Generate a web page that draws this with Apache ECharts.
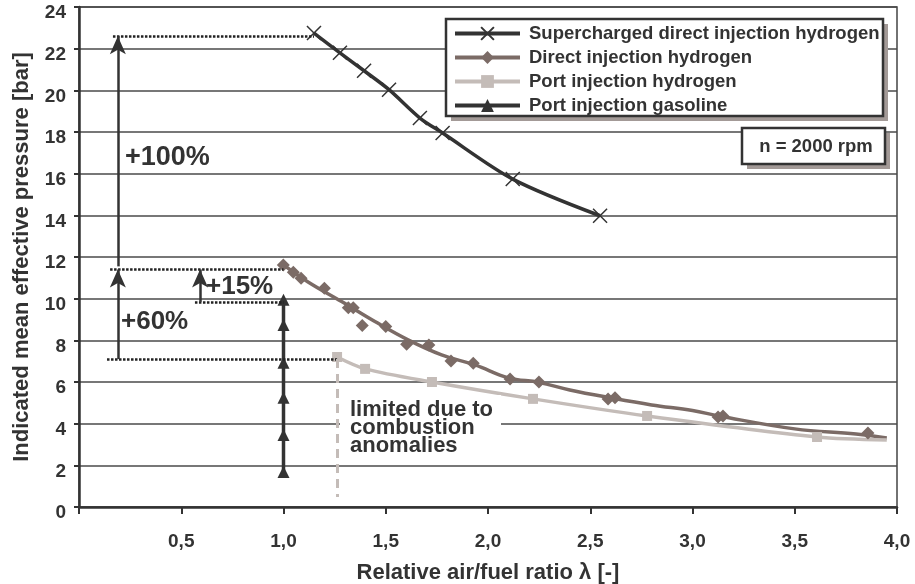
<!DOCTYPE html>
<html lang="en">

<head>
    <meta charset="UTF-8">
    <title>Indicated mean effective pressure vs. lambda</title>
    <script src="https://cdn.jsdelivr.net/npm/echarts@6/dist/echarts.min.js"></script>
    <style>
        html, body { margin: 0; padding: 0; background: #fff; }
        #chart { width: 915px; height: 584px; }
    </style>
</head>

<body>
    <div id="chart"></div>
    <script>
        // data
        const superX = [1.149, 1.276, 1.394, 1.516, 1.667, 1.778, 2.121, 2.548];
        const superY = [22.75, 21.8, 20.94, 20.03, 18.67, 17.95, 15.74, 13.98];

        // measured points (markers)
        const directX = [0.999, 1.048, 1.086, 1.2, 1.317, 1.341, 1.385, 1.5, 1.602, 1.711, 1.819, 1.928, 2.108, 2.249, 2.587, 2.621, 3.125, 3.149, 3.858];
        const directY = [11.62, 11.27, 10.98, 10.5, 9.57, 9.57, 8.71, 8.66, 7.81, 7.78, 7.01, 6.9, 6.15, 6.0, 5.19, 5.24, 4.32, 4.37, 3.55];
        // the smoothed curve drawn through them, as seen in the picture
        const directCurveX = [1.0, 1.12, 1.284, 1.447, 1.609, 1.773, 1.936, 2.1, 2.25, 2.4, 2.6, 2.8, 3.0, 3.13, 3.5, 3.8, 3.95];
        const directCurveY = [11.62, 10.8, 9.86, 8.9, 8.02, 7.3, 6.82, 6.2, 5.98, 5.62, 5.24, 4.9, 4.63, 4.37, 3.75, 3.5, 3.31];

        const portX = [1.262, 1.399, 1.726, 2.22, 2.778, 3.609, 3.95];
        const portY = [7.2, 6.63, 6.0, 5.19, 4.37, 3.36, 3.22];

        const gasX = [1.0, 1.0, 1.0, 1.0, 1.0, 1.0];
        const gasY = [9.95, 8.74, 6.92, 5.24, 3.46, 1.68];

        const seriesNames = ['Supercharged direct injection hydrogen', 'Direct injection hydrogen', 'Port injection hydrogen', 'Port injection gasoline'];

        // reference lines and arrows (data coordinates)
        const dottedLines = [
            [[0.166, 22.6], [1.149, 22.6]],
            [[0.152, 11.4], [1.0, 11.4]],
            [[0.567, 9.85], [1.0, 9.85]],
            [[0.137, 7.1], [1.262, 7.1]]
        ];
        const arrows = [
            [[0.19, 11.55], [0.19, 22.6]],
            [[0.19, 7.1], [0.19, 11.4]],
            [[0.592, 9.85], [0.592, 11.4]]
        ];
        const limitLine = [[1.262, 7.1], [1.262, 0.48]];

        const font = "'Liberation Sans', Arial, sans-serif";
        const dark = '#333';
        const brown = '#7b6b66';
        const light = '#c4bcb8';

        // line ends past the last marker have no symbol
        function pairs(xs, ys, noMarkerLast) {
            return xs.map((x, i) => {
                if (noMarkerLast && i === xs.length - 1) {
                    return { value: [x, ys[i]], symbol: 'none' };
                }
                return [x, ys[i]];
            });
        }

        let markData = [];
        dottedLines.forEach(l => {
            markData.push([
                { coord: l[0], symbol: 'none', lineStyle: { color: '#222', width: 2.5, type: [2.5, 1.5] } },
                { coord: l[1], symbol: 'none' }
            ]);
        });
        arrows.forEach(l => {
            markData.push([
                { coord: l[0], symbol: 'none', lineStyle: { color: dark, width: 2.5, type: 'solid' } },
                { coord: l[1], symbol: 'arrow', symbolSize: [12, 18] }
            ]);
        });
        markData.push([
            { coord: limitLine[0], symbol: 'none', lineStyle: { color: light, width: 3, type: [9, 6] } },
            { coord: limitLine[1], symbol: 'none' }
        ]);

        let myChart = echarts.init(document.getElementById('chart'));

        let option = {
            animation: false,
            textStyle: { fontFamily: font },
            grid: {
                left: 79, right: 18, top: 7, bottom: 77,
                outerBoundsMode: 'none',
                show: true, borderColor: '#444', borderWidth: 1.5
            },
            legend: {
                data: seriesNames,
                orient: 'vertical',
                left: 446, top: 19,
                padding: [5, 0, 0, 7],
                itemWidth: 65, itemHeight: 16, itemGap: 5,
                z: 20,
                lineStyle: { width: 4 },
                textStyle: { fontFamily: font, fontSize: 18.5, fontWeight: 'bold', color: dark, lineHeight: 16, padding: [0, 0, 0, 4] }
            },
            xAxis: {
                type: 'value',
                min: 0, max: 4, interval: 0.5,
                name: 'Relative air/fuel ratio λ [-]',
                nameLocation: 'middle',
                nameGap: 55,
                nameTextStyle: { fontFamily: font, fontSize: 22, fontWeight: 'bold', color: dark },
                axisLine: { lineStyle: { color: dark, width: 2.5 } },
                axisTick: { show: true, length: 7, lineStyle: { color: dark, width: 2 } },
                axisLabel: {
                    margin: 25, fontSize: 19, fontWeight: 'bold', color: dark, fontFamily: font,
                    formatter: v => v === 0 ? '' : v.toFixed(1).replace('.', ',')
                },
                splitLine: { show: false }
            },
            yAxis: {
                type: 'value',
                min: 0, max: 24, interval: 2,
                name: 'Indicated mean effective pressure [bar]',
                nameLocation: 'middle',
                nameGap: 46,
                nameTextStyle: { fontFamily: font, fontSize: 22, fontWeight: 'bold', color: dark },
                axisLine: { show: true, lineStyle: { color: dark, width: 2.5 } },
                axisTick: { show: true, length: 5, lineStyle: { color: dark, width: 2 } },
                // labels sit a little below their gridlines in the original
                axisLabel: { margin: 13, fontSize: 19, fontWeight: 'bold', color: dark, fontFamily: font, verticalAlign: 'top', lineHeight: 12 },
                splitLine: { lineStyle: { color: '#4a4a4a', width: 1.5 } }
            },
            graphic: [
                // legend frame with shadow
                { type: 'rect', z: 10, shape: { x: 451, y: 24, width: 437, height: 97 }, style: { fill: '#a39a97' } },
                { type: 'rect', z: 11, shape: { x: 446, y: 19, width: 437, height: 97 }, style: { fill: '#fff', stroke: dark, lineWidth: 2.5 } },
                // rpm box
                { type: 'rect', z: 10, shape: { x: 747, y: 133, width: 143, height: 36 }, style: { fill: '#a39a97' } },
                { type: 'rect', z: 11, shape: { x: 742, y: 128, width: 143, height: 36 }, style: { fill: '#fff', stroke: dark, lineWidth: 2.5 } },
                {
                    type: 'text', z: 12, x: 816, y: 147,
                    style: { text: 'n = 2000 rpm', fill: dark, fontSize: 18.5, fontWeight: 'bold', fontFamily: font, align: 'center', verticalAlign: 'middle' }
                },
                {
                    type: 'text', z: 12, x: 125, y: 158,
                    style: { text: '+100%', fill: dark, fontSize: 27, fontWeight: 'bold', fontFamily: font, verticalAlign: 'middle' }
                },
                {
                    type: 'text', z: 12, x: 121, y: 322,
                    style: { text: '+60%', fill: dark, fontSize: 26, fontWeight: 'bold', fontFamily: font, verticalAlign: 'middle' }
                },
                {
                    type: 'text', z: 12, x: 206, y: 287,
                    style: { text: '+15%', fill: dark, fontSize: 26, fontWeight: 'bold', fontFamily: font, verticalAlign: 'middle' }
                },
                {
                    type: 'text', z: 12, x: 340, y: 395,
                    style: {
                        text: 'limited due to\ncombustion\nanomalies', fill: dark, fontSize: 22, fontWeight: 'bold', fontFamily: font,
                        lineHeight: 18, verticalAlign: 'top', backgroundColor: '#fff', padding: [6, 8, 6, 10]
                    }
                }
            ],
            series: [
                {
                    name: seriesNames[0],
                    type: 'line',
                    smooth: 0.3,
                    data: pairs(superX, superY, false),
                    symbol: 'path://M0,0L10,10M10,0L0,10',
                    symbolSize: 14,
                    lineStyle: { color: dark, width: 3.5 },
                    itemStyle: { color: dark, borderColor: dark, borderWidth: 1.5 },
                    z: 3
                },
                {
                    // curve carries the legend entry, markers come from the scatter below
                    name: seriesNames[1],
                    type: 'line',
                    smooth: 0.4,
                    data: pairs(directCurveX, directCurveY, false),
                    symbol: 'diamond',
                    symbolSize: 13,
                    showSymbol: false,
                    lineStyle: { color: brown, width: 3.5 },
                    itemStyle: { color: brown },
                    z: 3
                },
                {
                    name: 'Direct injection hydrogen points',
                    type: 'scatter',
                    data: pairs(directX, directY, false),
                    symbol: 'diamond',
                    symbolSize: 13,
                    itemStyle: { color: brown, opacity: 1 },
                    z: 4
                },
                {
                    name: seriesNames[2],
                    type: 'line',
                    smooth: 0.3,
                    data: pairs(portX, portY, true),
                    symbol: 'rect',
                    symbolSize: 10,
                    lineStyle: { color: light, width: 3.5 },
                    itemStyle: { color: light },
                    z: 3
                },
                {
                    name: seriesNames[3],
                    type: 'line',
                    data: pairs(gasX, gasY, false),
                    symbol: 'triangle',
                    symbolSize: 12,
                    lineStyle: { color: dark, width: 3.5 },
                    itemStyle: { color: dark },
                    z: 3
                },
                {
                    name: 'annotations',
                    type: 'line',
                    data: [],
                    silent: true,
                    markLine: {
                        silent: true,
                        animation: false,
                        label: { show: false },
                        symbol: ['none', 'none'],
                        data: markData
                    },
                    z: 2
                }
            ]
        };

        myChart.setOption(option);
    </script>
</body>

</html>
